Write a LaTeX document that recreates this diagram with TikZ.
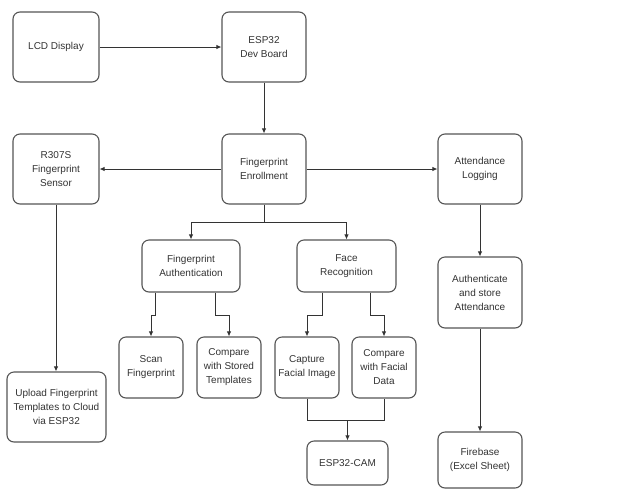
\documentclass[tikz,border=0pt]{standalone}
\usepackage{fontspec}
\setmainfont{Liberation Sans}
\usetikzlibrary{arrows.meta}
\definecolor{boxc}{HTML}{555555}
\definecolor{linec}{HTML}{333333}
\definecolor{txtc}{HTML}{333333}
\begin{document}
\begin{tikzpicture}[x=1pt,y=-1pt,
  box/.style={draw=boxc,line width=1.1pt,rounded corners=7pt,align=center,
    text=txtc,font=\fontsize{10}{14}\selectfont,inner sep=2pt},
  conn/.style={draw=linec,line width=0.9pt},
  arr/.style={conn,-{Latex[length=5pt,width=4.5pt]}}]
\useasboundingbox (0,0) rectangle (631,491);
\fill[white] (0,0) rectangle (631,491);
\node[box,minimum width=86pt,minimum height=70pt] (lcd) at (56,47) {LCD Display};
\node[box,minimum width=84pt,minimum height=70pt] (esp) at (264,47) {ESP32\\Dev Board};
\node[box,minimum width=86pt,minimum height=70pt] (r307) at (56,169) {R307S\\Fingerprint\\Sensor};
\node[box,minimum width=84pt,minimum height=70pt] (enr) at (264,169) {Fingerprint\\Enrollment};
\node[box,minimum width=84pt,minimum height=70pt] (att) at (480,169) {Attendance\\Logging};
\node[box,minimum width=98pt,minimum height=52pt] (fa) at (191,266) {Fingerprint\\Authentication};
\node[box,minimum width=99pt,minimum height=52pt] (fr) at (346.5,266) {Face\\Recognition};
\node[box,minimum width=64pt,minimum height=61pt] (scan) at (151,367.5) {Scan\\Fingerprint};
\node[box,minimum width=64pt,minimum height=61pt] (cst) at (229,367.5) {Compare\\with Stored\\Templates};
\node[box,minimum width=64pt,minimum height=61pt] (cap) at (307,367.5) {Capture\\Facial Image};
\node[box,minimum width=64pt,minimum height=61pt] (cfd) at (384,367.5) {Compare\\with Facial\\Data};
\node[box,minimum width=99pt,minimum height=70pt] (upl) at (56.5,407) {Upload Fingerprint\\Templates to Cloud\\via ESP32};
\node[box,minimum width=81pt,minimum height=44pt] (cam) at (347.5,463) {ESP32-CAM};
\node[box,minimum width=84pt,minimum height=71pt] (auth) at (480,292.5) {Authenticate\\and store\\Attendance};
\node[box,minimum width=84pt,minimum height=56pt] (fb) at (480,460) {Firebase\\(Excel Sheet)};

\draw[arr] (lcd.east) -- (esp.west);
\draw[arr] (esp.south) -- (enr.north);
\draw[arr] (enr.west) -- (r307.east);
\draw[arr] (enr.east) -- (att.west);
\draw[conn] (enr.south) -- ++(0,18) coordinate (br);
\draw[arr] (br) -| (fa.north);
\draw[arr] (br) -| (fr.north);
\draw[arr] ([xshift=-36pt]fa.south) -- ++(0,23) -| (scan.north);
\draw[arr] ([xshift=24pt]fa.south) -- ++(0,23) -| (cst.north);
\draw[arr] ([xshift=-24.5pt]fr.south) -- ++(0,23) -| (cap.north);
\draw[arr] ([xshift=23.5pt]fr.south) -- ++(0,23) -| (cfd.north);
\draw[conn] (cap.south) -- ++(0,22) coordinate (jn) -| (cfd.south);
\draw[arr] (jn -| cam.north) -- (cam.north);
\draw[arr] (r307.south) -- (r307.south |- upl.north);
\draw[arr] (att.south) -- (auth.north);
\draw[arr] (auth.south) -- (fb.north);
\end{tikzpicture}
\end{document}
